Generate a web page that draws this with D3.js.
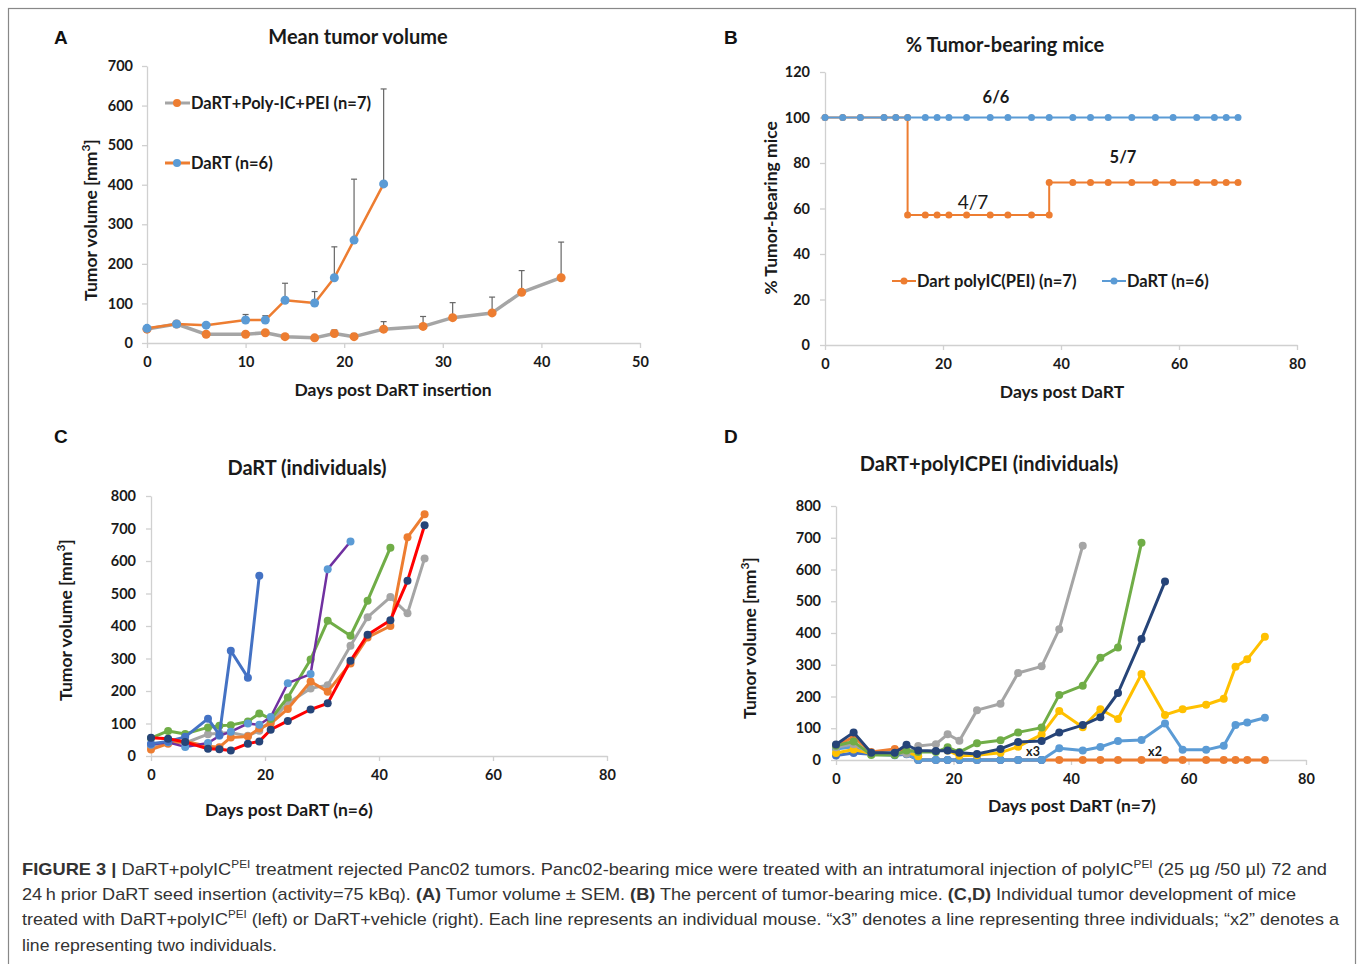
<!DOCTYPE html>
<html>
<head>
<meta charset="utf-8">
<title>DaRT + polyIC figure</title>
<script src="https://cdn.jsdelivr.net/npm/d3@7"></script>
<style>
  body { margin: 0; background: #fff; }
  svg text { font-family: Lato, "Open Sans", sans-serif; }
  svg text.arial { font-family: "Liberation Sans", Arial, sans-serif; }
</style>
</head>
<body>
<script>
// ---- Panel A: mean tumor volume (+SEM) ----
const daysDartA = [0, 3, 6, 10, 12, 14, 17, 19, 21, 24];
const meanDartA = [37, 48, 45, 58, 58, 108, 101, 165, 260, 402];
const semDartA  = [0, 6, 0, 14, 11, 43, 29, 78, 154, 240];
const daysPolyA = [0, 3, 6, 10, 12, 14, 17, 19, 21, 24, 28, 31, 35, 38, 42];
const meanPolyA = [35, 48, 22, 22, 26, 16, 13, 24, 16, 35, 42, 64, 76, 128, 165];
const semPolyA  = [0, 6, 0, 0, 0, 0, 6, 9, 8, 19, 25, 38, 40, 55, 90];
const xTicksA = [0, 10, 20, 30, 40, 50];
const yTicksA = [0, 100, 200, 300, 400, 500, 600, 700];

// ---- Panel B: % tumor-bearing mice ----
const daysDartB = [0, 3, 6, 10, 12, 14, 17, 19, 21, 24, 28, 31, 35, 38, 42, 45, 48, 52, 56, 59, 63, 66, 68, 70];
const pctDartB  = [100, 100, 100, 100, 100, 100, 100, 100, 100, 100, 100, 100, 100, 100, 100, 100, 100, 100, 100, 100, 100, 100, 100, 100];
const daysPolyB = [0, 3, 6, 10, 12, 14, 14, 17, 19, 21, 24, 28, 31, 35, 38, 38, 42, 45, 48, 52, 56, 59, 63, 66, 68, 70];
const pctPolyB  = [100, 100, 100, 100, 100, 100, 57.1, 57.1, 57.1, 57.1, 57.1, 57.1, 57.1, 57.1, 57.1, 71.4, 71.4, 71.4, 71.4, 71.4, 71.4, 71.4, 71.4, 71.4, 71.4, 71.4];
const xTicksB = [0, 20, 40, 60, 80];
const yTicksB = [0, 20, 40, 60, 80, 100, 120];

// ---- Panel C: DaRT individuals ----
const daysC = [0, 3, 6, 10, 12, 14, 17, 19, 21, 24, 28, 31, 35, 38, 42, 45, 48];
const grayC   = [30, 42, 40, 67, 70, 72, 62, 78, 108, 162, 208, 218, 339, 427, 489, 439, 608];
const orangeC = [20, 38, 45, 30, 27, 57, 60, 85, 100, 145, 229, 198, 285, 365, 400, 673, 744];
const greenC  = [55, 77, 68, 88, 93, 95, 106, 131, 114, 180, 297, 416, 370, 478, 641];
const purpleC = [35, 42, 28, 40, 62, 75, 100, 96, 120, 224, 252, 575, 660];
const blueC   = [38, 45, 59, 115, 65, 324, 241, 555];
const redC    = [56, 53, 43, 22, 21, 17, 38, 45, 81, 108, 143, 162, 293, 373, 418, 539, 710];
const xTicksC = [0, 20, 40, 60, 80];
const yTicksC = [0, 100, 200, 300, 400, 500, 600, 700, 800];

// ---- Panel D: DaRT+polyICPEI individuals ----
const daysD = [0, 3, 6, 10, 12, 14, 17, 19, 21, 24, 28, 31, 35, 38, 42, 45, 48, 52, 56, 59, 63, 66, 68, 70, 73];
const orangeD = [45, 72, 25, 35, 30, 0, 0, 0, 0, 0, 0, 0, 0, 0, 0, 0, 0, 0, 0, 0, 0, 0, 0, 0, 0];
const blueD   = [14, 22, 18, 15, 18, 0, 0, 0, 0, 0, 0, 0, 0];
const ltblueD = [35, 42, 22, 20, 20, 0, 0, 0, 0, 0, 0, 0, 0, 37, 30, 41, 60, 63, 115, 32, 32, 45, 110, 118, 133];
const yellowD = [22, 33, 20, 20, 25, 12, null, 30, 13, 15, 23, 42, 80, 154, 103, 160, 129, 271, 142, 160, 174, 193, 294, 317, 388];
const grayD   = [40, 50, 20, 20, 20, 44, 50, 81, 61, 157, 177, 274, 295, 412, 675];
const greenD  = [45, 58, 16, 16, 30, 25, 25, 40, 25, 53, 62, 87, 102, 205, 234, 322, 354, 684];
const navyD   = [49, 87, 23, 23, 48, 30, 28, 30, 23, 19, 35, 57, 60, 87, 110, 135, 211, 381, 562];
const xTicksD = [0, 20, 40, 60, 80];
const yTicksD = [0, 100, 200, 300, 400, 500, 600, 700, 800];

const W = 1357, H = 964;
const axisCol = "#d0d0d0";
const txtCol = "#1a1a1a";

const svg = d3.select("body").append("svg")
  .attr("width", W)
  .attr("height", H);

// outer frame
svg.append("rect")
  .attr("x", 8.5).attr("y", 8.5)
  .attr("width", 1347).attr("height", 990)
  .attr("fill", "none")
  .attr("stroke", "#888")
  .attr("stroke-width", 1.2);

// turn two arrays into points
function pts(days, vals) {
  return vals.map((v, i) => ({ d: days[i], v: v }));
}

// axes for one panel
function drawAxes(x, y, xTicks, yTicks, xPad, yPad) {
  const g = svg.append("g");
  g.append("g")
    .attr("transform", "translate(" + x.range()[0] + ",0)")
    .call(d3.axisLeft(y).tickValues(yTicks).tickSize(5).tickPadding(yPad).tickSizeOuter(0));
  g.append("g")
    .attr("transform", "translate(0," + y.range()[0] + ")")
    .call(d3.axisBottom(x).tickValues(xTicks).tickSize(5).tickPadding(xPad).tickSizeOuter(0));
  g.selectAll(".domain, .tick line").attr("stroke", axisCol).attr("stroke-width", 1.3);
  g.selectAll(".tick text")
    .attr("fill", txtCol)
    .attr("font-size", "14.5px")
    .attr("font-weight", "bold");
  return g;
}

function drawSeries(x, y, data, lineCol, markCol, lw, r) {
  const line = d3.line()
    .defined(p => p.v != null)
    .x(p => x(p.d))
    .y(p => y(p.v));
  svg.append("path")
    .datum(data)
    .attr("d", line)
    .attr("fill", "none")
    .attr("stroke", lineCol)
    .attr("stroke-width", lw)
    .attr("stroke-linejoin", "round");
  svg.append("g").selectAll("circle")
    .data(data.filter(p => p.v != null))
    .enter()
    .append("circle")
    .attr("cx", p => x(p.d))
    .attr("cy", p => y(p.v))
    .attr("r", r)
    .attr("fill", markCol);
}

function label(txt, x, y, size, weight, anchor) {
  return svg.append("text")
    .attr("x", x).attr("y", y)
    .attr("font-size", size + "px")
    .attr("font-weight", weight)
    .attr("text-anchor", anchor || "middle")
    .attr("fill", txtCol)
    .text(txt);
}

function yTitle(x, y, withUnit, txt) {
  const t = svg.append("text")
    .attr("transform", "translate(" + x + "," + y + ") rotate(-90)")
    .attr("text-anchor", "middle")
    .attr("dy", "0.35em")
    .attr("font-size", "17.5px")
    .attr("font-weight", "bold")
    .attr("fill", txtCol);
  if (withUnit) {
    t.append("tspan").text("Tumor volume [mm");
    t.append("tspan").attr("dy", -7).attr("font-size", "12px").text("3");
    t.append("tspan").attr("dy", 7).text("]");
  } else {
    t.text(txt);
  }
}

function panelLetter(txt, x, y) {
  svg.append("text")
    .attr("class", "arial")
    .attr("x", x).attr("y", y)
    .attr("font-size", "19px")
    .attr("font-weight", "bold")
    .attr("fill", "#111")
    .text(txt);
}

const ORANGE = "#ED7D31", BLUE = "#5B9BD5", GRAY = "#A5A5A5", GOLD = "#FFC000",
      MBLUE = "#4472C4", GREEN = "#70AD47", NAVY = "#264478", PURPLE = "#7030A0", RED = "#FF0000";

// ================= Panel A =================
{
  const x = d3.scaleLinear().domain([0, 50]).range([147, 640]);
  const y = d3.scaleLinear().domain([0, 700]).range([343, 66]);
  drawAxes(x, y, xTicksA, yTicksA, 9, 9);

  // error bars (upper only)
  function errBars(days, means, sems) {
    const g = svg.append("g");
    means.forEach((m, i) => {
      if (!sems[i]) return;
      const cx = x(days[i]);
      g.append("line").attr("x1", cx).attr("x2", cx)
        .attr("y1", y(m)).attr("y2", y(m + sems[i]))
        .attr("stroke", "#666").attr("stroke-width", 1.2);
      g.append("line").attr("x1", cx - 3).attr("x2", cx + 3)
        .attr("y1", y(m + sems[i])).attr("y2", y(m + sems[i]))
        .attr("stroke", "#666").attr("stroke-width", 1.2);
    });
  }
  errBars(daysPolyA, meanPolyA, semPolyA);
  errBars(daysDartA, meanDartA, semDartA);

  drawSeries(x, y, pts(daysPolyA, meanPolyA), GRAY, ORANGE, 3.5, 4.5);
  drawSeries(x, y, pts(daysDartA, meanDartA), ORANGE, BLUE, 2.5, 4.5);

  // legend
  const leg = [
    { t: "DaRT+Poly-IC+PEI (n=7)", lc: GRAY, mc: ORANGE, yy: 103 },
    { t: "DaRT (n=6)", lc: ORANGE, mc: BLUE, yy: 163 }
  ];
  leg.forEach(l => {
    svg.append("line").attr("x1", 165).attr("x2", 190).attr("y1", l.yy).attr("y2", l.yy)
      .attr("stroke", l.lc).attr("stroke-width", 3);
    svg.append("circle").attr("cx", 177).attr("cy", l.yy).attr("r", 4).attr("fill", l.mc);
    label(l.t, 191, l.yy + 6, 16.5, "bold", "start");
  });

  panelLetter("A", 54, 44);
  label("Mean tumor volume", 358, 44, 20, "bold");
  label("Days post DaRT insertion", 393, 396, 17.5, "bold");
  yTitle(91, 220, true);
}

// ================= Panel B =================
{
  const x = d3.scaleLinear().domain([0, 80]).range([825, 1297]);
  const y = d3.scaleLinear().domain([0, 120]).range([345, 72]);
  drawAxes(x, y, xTicksB, yTicksB, 9, 10);

  drawSeries(x, y, pts(daysPolyB, pctPolyB), ORANGE, ORANGE, 2, 3.5);
  drawSeries(x, y, pts(daysDartB, pctDartB), BLUE, BLUE, 2, 3.5);

  label("6/6", 996, 103, 16.5, "bold");
  label("5/7", 1123, 163, 16.5, "bold");
  label("4/7", 973, 209, 19, "normal");

  const leg = [
    { t: "Dart polyIC(PEI) (n=7)", c: ORANGE, x0: 892 },
    { t: "DaRT (n=6)", c: BLUE, x0: 1102 }
  ];
  leg.forEach(l => {
    svg.append("line").attr("x1", l.x0).attr("x2", l.x0 + 24).attr("y1", 281).attr("y2", 281)
      .attr("stroke", l.c).attr("stroke-width", 2);
    svg.append("circle").attr("cx", l.x0 + 12).attr("cy", 281).attr("r", 3.5).attr("fill", l.c);
    label(l.t, l.x0 + 25, 287, 16.5, "bold", "start");
  });

  panelLetter("B", 724, 44);
  label("% Tumor-bearing mice", 1005, 52, 20, "bold");
  label("Days post DaRT", 1062, 398, 17.5, "bold");
  yTitle(771, 208, false, "% Tumor-bearing mice");
}

// ================= Panel C =================
{
  const x = d3.scaleLinear().domain([0, 80]).range([151, 607]);
  const y = d3.scaleLinear().domain([0, 800]).range([756, 496]);
  drawAxes(x, y, xTicksC, yTicksC, 9, 10);

  drawSeries(x, y, pts(daysC, grayC), GRAY, GRAY, 3, 4);
  drawSeries(x, y, pts(daysC, orangeC), ORANGE, ORANGE, 3, 4);
  drawSeries(x, y, pts(daysC, greenC), GREEN, GREEN, 3, 4);
  drawSeries(x, y, pts(daysC, purpleC), PURPLE, BLUE, 2.5, 4);
  drawSeries(x, y, pts(daysC, blueC), MBLUE, MBLUE, 3, 4);
  drawSeries(x, y, pts(daysC, redC), RED, NAVY, 3, 4);

  panelLetter("C", 54, 443);
  label("DaRT (individuals)", 307, 475, 20, "bold");
  label("Days post DaRT (n=6)", 289, 816, 17.5, "bold");
  yTitle(66, 620, true);
}

// ================= Panel D =================
{
  const x = d3.scaleLinear().domain([0, 80]).range([836, 1306]);
  const y = d3.scaleLinear().domain([0, 800]).range([760, 506]);
  drawAxes(x, y, xTicksD, yTicksD, 9, 10);

  drawSeries(x, y, pts(daysD, orangeD), ORANGE, ORANGE, 3, 4);
  drawSeries(x, y, pts(daysD, blueD), MBLUE, MBLUE, 3, 4);
  drawSeries(x, y, pts(daysD, ltblueD), BLUE, BLUE, 3, 4);
  drawSeries(x, y, pts(daysD, yellowD), GOLD, GOLD, 3, 4);
  drawSeries(x, y, pts(daysD, grayD), GRAY, GRAY, 3, 4);
  drawSeries(x, y, pts(daysD, greenD), GREEN, GREEN, 3, 4);
  drawSeries(x, y, pts(daysD, navyD), NAVY, NAVY, 3, 4);

  label("x3", 1033, 756, 12.5, "bold");
  label("x2", 1155, 756, 12.5, "bold");

  panelLetter("D", 724, 443);
  label("DaRT+polyICPEI (individuals)", 989, 471, 20, "bold");
  label("Days post DaRT (n=7)", 1072, 812, 17.5, "bold");
  yTitle(750, 638, true);
}

// ================= Caption =================
const capLines = [
  { y: 875, w: 1305, parts: [["FIGURE 3 | ", "b"], ["DaRT+polyIC", ""], ["PEI", "sup"], [" treatment rejected Panc02 tumors. Panc02-bearing mice were treated with an intratumoral injection of polyIC", ""], ["PEI", "sup"], [" (25 \u00b5g /50 \u00b5l) 72 and", ""]] },
  { y: 900, w: 1274, parts: [["24\u2009h prior DaRT seed insertion (activity=75 kBq). ", ""], ["(A)", "b"], [" Tumor volume \u00b1 SEM. ", ""], ["(B)", "b"], [" The percent of tumor-bearing mice. ", ""], ["(C,D)", "b"], [" Individual tumor development of mice", ""]] },
  { y: 925, w: 1317, parts: [["treated with DaRT+polyIC", ""], ["PEI", "sup"], [" (left) or DaRT+vehicle (right). Each line represents an individual mouse. \u201cx3\u201d denotes a line representing three individuals; \u201cx2\u201d denotes a", ""]] },
  { y: 951, w: 255, parts: [["line representing two individuals.", ""]] }
];
capLines.forEach(line => {
  const t = svg.append("text")
    .attr("class", "arial")
    .attr("x", 22).attr("y", line.y)
    .attr("font-size", "17px")
    .attr("fill", "#333")
    .attr("textLength", line.w)
    .attr("lengthAdjust", "spacingAndGlyphs");
  let shifted = false;
  line.parts.forEach(p => {
    const s = t.append("tspan").text(p[0]);
    if (p[1] === "b") s.attr("font-weight", "bold");
    if (p[1] === "sup") {
      s.attr("font-size", "11px").attr("dy", -7);
      shifted = true;
    } else if (shifted) {
      s.attr("dy", 7);
      shifted = false;
    }
  });
});
</script>
</body>
</html>
